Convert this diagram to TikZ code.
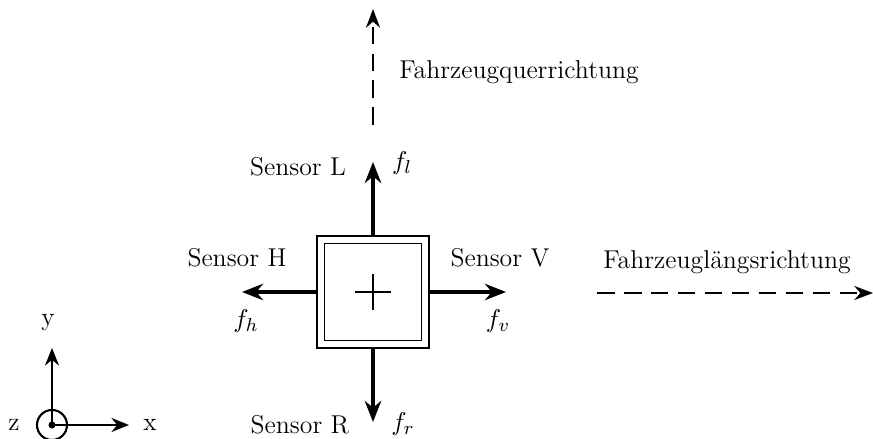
\documentclass[tikz,border=0pt]{standalone}
\usetikzlibrary{arrows.meta}
\begin{document}
\begin{tikzpicture}[x=0.015cm,y=-0.015cm,
  force/.style={line width=1.4pt,-{Stealth[length=9pt,width=7pt]}},
  dir/.style={line width=0.8pt,dash pattern=on 7.5pt off 4pt,-{Stealth[length=8pt,width=6pt]}},
  axis/.style={line width=0.9pt,-{Stealth[length=7.5pt,width=6pt]}},
  lbl/.style={inner sep=1pt,font=\fontsize{11}{13}\selectfont}]
\useasboundingbox (0,0) rectangle (873,439);
% sensor box
\node[draw,line width=0.8pt,minimum size=112*0.015cm,inner sep=0] (outer) at (373,292) {};
\node[draw,line width=0.8pt,minimum size=97*0.015cm,inner sep=0] (inner) at (373,292) {};
\coordinate (c) at (373,292);
\draw[line width=0.6pt] ([xshift=-18*0.015cm]c) -- ([xshift=18*0.015cm]c);
\draw[line width=0.6pt] ([yshift=-18*0.015cm]c) -- ([yshift=18*0.015cm]c);
% forces
\coordinate (fl) at (373,162);
\coordinate (fr) at (373,422);
\coordinate (fh) at (242,292);
\coordinate (fv) at (506,292);
\draw[force] (outer.north) -- (fl);
\draw[force] (outer.south) -- (fr);
\draw[force] (outer.west) -- (fh);
\draw[force] (outer.east) -- (fv);
\node[lbl] (sl) at (298,167) {Sensor L};
\node[lbl] (flt) at (402,163) {$f_l$};
\node[lbl] (sh) at (237,258) {Sensor H};
\node[lbl] (fht) at (246,321) {$f_h$};
\node[lbl] (sv) at (500,258) {Sensor V};
\node[lbl] (fvt) at (498,321) {$f_v$};
\node[lbl] (sr) at (300,425) {Sensor R};
\node[lbl] (frt) at (403,424) {$f_r$};
% directions
\coordinate (q0) at (373,125);
\coordinate (q1) at (373,9);
\draw[dir] (q0) -- (q1);
\node[lbl] (qt) at (519,72) {Fahrzeugquerrichtung};
\coordinate (l0) at (597,293);
\coordinate (l1) at (873,293);
\draw[dir] (l0) -- (l1);
\node[lbl] (lt) at (727,262) {Fahrzeuglängsrichtung};
% coordinate system
\coordinate (o) at (52,425);
\node[draw,circle,line width=0.9pt,minimum size=30*0.015cm,inner sep=0] (zc) at (o) {};
\fill (o) circle (1.5pt);
\coordinate (ya) at (52,348);
\coordinate (xa) at (129,425);
\draw[axis] (o) -- (ya);
\draw[axis] (o) -- (xa);
\node[lbl] (yt) at (48,323) {y};
\node[lbl] (xt) at (150,425) {x};
\node[lbl] (zt) at (14,425) {z};
\end{tikzpicture}
\end{document}
